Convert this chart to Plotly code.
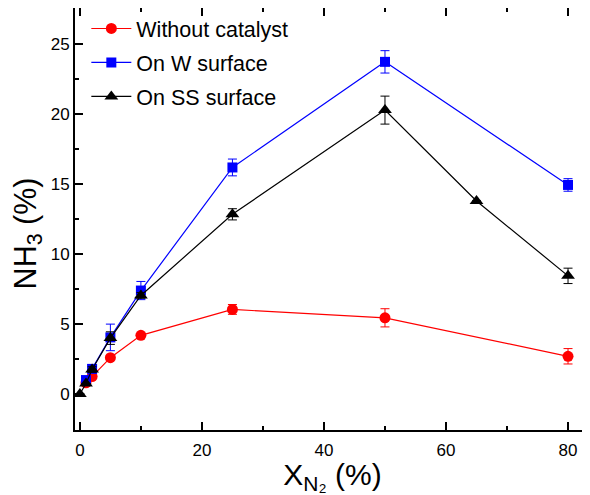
import plotly.graph_objects as go

# Data
x_none = [1, 2, 5, 10, 25, 50, 80]
y_none = [0.8, 1.25, 2.6, 4.2, 6.05, 5.45, 2.7]
e_none = [0.0, 0.0, 0.0, 0.0, 0.35, 0.65, 0.55]

x_w = [1, 2, 5, 10, 25, 50, 80]
y_w = [1.0, 1.8, 4.05, 7.4, 16.2, 23.75, 14.95]
e_w = [0.0, 0.3, 0.95, 0.65, 0.6, 0.8, 0.45]

x_ss = [0, 1, 2, 5, 10, 25, 50, 65, 80]
y_ss = [0.0, 0.75, 1.75, 4.0, 7.05, 12.85, 20.3, 13.8, 8.45]
e_ss = [0.0, 0.0, 0.2, 0.45, 0.2, 0.4, 1.0, 0.0, 0.55]

names = ["Without catalyst", "On W surface", "On SS surface"]
colors = ["#ff0000", "#0000ff", "#000000"]
symbols = ["circle", "square", "triangle-up"]
sizes = [11, 10, 12]

FONT = "Arial, Liberation Sans, sans-serif"

fig = go.Figure()
for i, (xs, ys, es) in enumerate([(x_none, y_none, e_none), (x_w, y_w, e_w), (x_ss, y_ss, e_ss)]):
    fig.add_trace(go.Scatter(
        x=xs, y=ys, name=names[i], mode="lines+markers",
        line=dict(color=colors[i], width=1.2),
        marker=dict(color=colors[i], symbol=symbols[i], size=sizes[i]),
        error_y=dict(type="data", array=es, visible=True, color=colors[i], thickness=1, width=4.5),
        legendgroup=f"g{i}",
    ))

fig.update_layout(
    width=582, height=487,
    margin=dict(l=67, r=0, t=0, b=65),
    paper_bgcolor="white", plot_bgcolor="white",
    font=dict(family=FONT, color="black"),
    showlegend=True,
    legend=dict(x=0.022, y=1.0, xanchor="left", yanchor="top",
                font=dict(size=21.5, family=FONT), bgcolor="rgba(0,0,0,0)",
                tracegroupgap=3, traceorder="grouped", itemwidth=40),
    xaxis=dict(
        range=[-0.8, 83.6], tickvals=[0, 20, 40, 60, 80],
        ticks="inside", ticklen=8, tickwidth=1.5, tickcolor="black",
        showline=True, linewidth=1.8, linecolor="black", mirror="ticks",
        showgrid=False, zeroline=False, automargin=False,
        tickfont=dict(size=17), ticklabelstandoff=4,
        minor=dict(tickvals=[10, 30, 50, 70], ticks="inside", ticklen=4, tickwidth=1.5, tickcolor="black", showgrid=False),
        title=dict(text="X<sub>N₂</sub> (%)", font=dict(size=30), standoff=4),
    ),
    yaxis=dict(
        range=[-2.57, 27.6], tickvals=[0, 5, 10, 15, 20, 25],
        ticks="inside", ticklen=8, tickwidth=1.5, tickcolor="black",
        showline=True, linewidth=1.8, linecolor="black", mirror=False,
        showgrid=False, zeroline=False, automargin=False,
        tickfont=dict(size=17),
        minor=dict(tickvals=[-2.5, 2.5, 7.5, 12.5, 17.5, 22.5], ticks="inside", ticklen=4, tickwidth=1.5, tickcolor="black", showgrid=False),
    ),
    annotations=[dict(
        text="NH<sub>3</sub> (%)", textangle=-90, showarrow=False,
        xref="paper", yref="paper", x=-0.092, y=0.465,
        xanchor="center", yanchor="middle", font=dict(size=30.5, family=FONT),
    )],
)

fig.write_html("out.html")
